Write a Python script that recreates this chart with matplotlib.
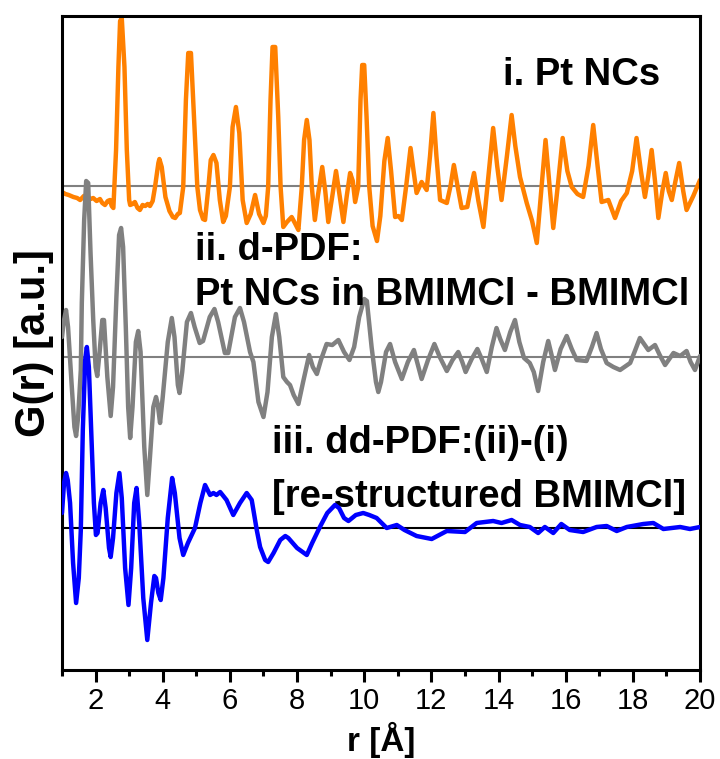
import numpy as np
import matplotlib.pyplot as plt
from matplotlib.ticker import MultipleLocator

plt.rcParams['font.family'] = ['Liberation Sans', 'DejaVu Sans']

# i. Pt NCs
r_pt = [1.00, 1.10, 1.20, 1.34, 1.45, 1.54, 1.65, 1.75, 1.85, 1.93, 2.03, 2.13, 2.20, 2.28, 2.36,
        2.43, 2.48, 2.53, 2.61, 2.68, 2.73, 2.78, 2.86, 2.93, 3.00, 3.03, 3.10, 3.17, 3.25, 3.32,
        3.40, 3.48, 3.55, 3.62, 3.70, 3.77, 3.87, 3.90, 3.97, 4.08, 4.20, 4.30, 4.37, 4.45, 4.51,
        4.61, 4.69, 4.76, 4.84, 4.93, 5.03, 5.11, 5.20, 5.26, 5.36, 5.43, 5.51, 5.60, 5.70, 5.80,
        5.88, 6.00, 6.08, 6.18, 6.28, 6.38, 6.50, 6.62, 6.75, 6.87, 7.00, 7.07, 7.14, 7.21, 7.27,
        7.35, 7.44, 7.51, 7.59, 7.70, 7.84, 7.95, 8.04, 8.14, 8.21, 8.29, 8.37, 8.44, 8.53, 8.62,
        8.75, 8.84, 8.93, 9.05, 9.16, 9.27, 9.38, 9.48, 9.58, 9.66, 9.73, 9.82, 9.89, 9.94, 10.00,
        10.07, 10.15, 10.25, 10.38, 10.48, 10.60, 10.70, 10.80, 10.92, 11.02, 11.12, 11.25, 11.38,
        11.47, 11.56, 11.71, 11.86, 11.96, 12.06, 12.15, 12.26, 12.46, 12.57, 12.67, 12.78, 12.90,
        13.07, 13.17, 13.27, 13.40, 13.55, 13.70, 13.84, 13.96, 14.09, 14.25, 14.39, 14.50, 14.64,
        14.84, 15.00, 15.14, 15.27, 15.40, 15.52, 15.63, 15.78, 15.91, 16.05, 16.18, 16.35, 16.52,
        16.68, 16.82, 16.95, 17.07, 17.27, 17.47, 17.65, 17.82, 17.98, 18.11, 18.24, 18.36, 18.46,
        18.56, 18.66, 18.76, 18.88, 18.98, 19.07, 19.16, 19.27, 19.38, 19.50, 19.60, 19.80, 20.00]
g_pt = [-6, -8, -9, -11, -12, -14, -10, -10, -13, -12, -15, -13, -17, -19, -15,
        -14, -20, -22, 36, 119, 165, 168, 119, 36, -14, -19, -18, -16, -22, -24,
        -19, -20, -18, -20, -15, -1, 23, 27, 19, -11, -25, -31, -32, -28, -27,
        -1, 86, 133, 133, 69, -1, -24, -33, -34, -1, 26, 31, 23, -14, -36,
        -30, -1, 59, 79, 53, -14, -37, -28, -9, -28, -37, -30, -1, 86, 139,
        139, 69, -1, -41, -36, -31, -38, -44, -1, 46, 66, 46, -1, -34, -10,
        19, -5, -36, -10, 15, -10, -36, -10, 13, 5, -16, -1, 86, 121, 121,
        69, -1, -40, -55, -30, 25, 48, 15, -31, -30, -34, 0, 38,
        15, -7, 4, -4, 30, 73, 30, -14, -17, 0, 21, 0, -22,
        -21, -3, 13, -15, -41, 10, 58, 20, -14, 30, 71, 40, 9,
        -17, -35, -57, -5, 46, 0, -42, 5, 48, 15, -1, -8, -11,
        20, 61, 20, -16, -14, -32, -15, -7, 15, 48, 15, -11, 10,
        36, 5, -32, -5, 13, -5, -14, 5, 23, -5, -24, -10, 6]

# ii. d-PDF: Pt NCs in BMIMCl - BMIMCl
r_d = [1.00, 1.05, 1.12, 1.18, 1.29, 1.37, 1.42, 1.48, 1.56, 1.59, 1.66, 1.72, 1.78, 1.85, 1.93,
       2.00, 2.05, 2.12, 2.20, 2.25, 2.35, 2.45, 2.52, 2.62, 2.70, 2.76, 2.82, 2.90, 2.97, 3.03,
       3.10, 3.20, 3.27, 3.34, 3.45, 3.54, 3.62, 3.72, 3.80, 3.85, 3.92, 4.00, 4.15, 4.27, 4.35,
       4.45, 4.50, 4.58, 4.72, 4.84, 4.95, 5.10, 5.20, 5.40, 5.54, 5.65, 5.85, 5.95, 6.15, 6.30,
       6.42, 6.60, 6.70, 6.85, 7.00, 7.12, 7.25, 7.37, 7.47, 7.59, 7.70, 7.79, 7.90, 8.04, 8.18,
       8.36, 8.47, 8.59, 8.72, 8.88, 9.05, 9.23, 9.40, 9.56, 9.70, 9.85, 10.00, 10.08, 10.22, 10.35,
       10.42, 10.50, 10.65, 10.77, 10.92, 11.12, 11.30, 11.48, 11.60, 11.71, 11.90, 12.09, 12.25,
       12.46, 12.63, 12.80, 12.92, 13.02, 13.20, 13.37, 13.50, 13.65, 13.80, 13.94, 14.05, 14.19,
       14.35, 14.49, 14.62, 14.76, 14.93, 15.05, 15.18, 15.33, 15.48, 15.58, 15.68, 15.85, 16.03,
       16.18, 16.33, 16.62, 16.78, 16.92, 17.05, 17.22, 17.42, 17.62, 17.92, 18.05, 18.21, 18.46,
       18.66, 18.80, 18.96, 19.21, 19.41, 19.60, 19.72, 19.85, 20.00]
g_d = [20, 35, 47, 30, -29, -70, -79, -60, -13, 54, 137, 176, 174, 104, 37,
       -10, -19, 5, 37, 37, -20, -59, -30, 60, 122, 129, 110, 30, -50, -81,
       -50, 15, 26, 5, -90, -138, -100, -50, -40, -47, -66, -40, 15, 39, 20,
       -28, -36, -15, 35, 44, 30, 14, 16, 40, 48, 35, 4, 4, 40, 49,
       35, 5, -5, -45, -60, -35, 20, 43, 20, -20, -25, -28, -38, -47, -25,
       2, -10, -17, -2, 13, 12, 17, 5, -3, 10, 40, 58, 56, 10, -25,
       -35, -25, 5, 13, -5, -22, -5, 7, -8, -22, -3, 13, 0,
       -14, -3, 5, -5, -15, -2, 8, -2, -15, 10, 29, 18, 7,
       25, 37, 15, -1, -6, -15, -34, -5, 16, 2, -13, 8, 21,
       8, -3, -4, 10, 24, 8, -6, -10, -13, -6, 5, 19, 7,
       12, 2, -8, 4, 1, 6, -5, -13, 1]

# iii. dd-PDF: (ii)-(i)
r_dd = [1.00, 1.06, 1.12, 1.17, 1.24, 1.33, 1.42, 1.50, 1.56, 1.62, 1.69, 1.74, 1.80, 1.88, 1.95,
        2.01, 2.06, 2.15, 2.23, 2.30, 2.40, 2.45, 2.52, 2.62, 2.71, 2.78, 2.88, 2.98, 3.06, 3.15,
        3.22, 3.30, 3.42, 3.54, 3.65, 3.75, 3.80, 3.87, 3.94, 4.02, 4.15, 4.28, 4.36, 4.50, 4.61,
        4.75, 4.96, 5.12, 5.26, 5.41, 5.51, 5.60, 5.71, 5.90, 6.10, 6.30, 6.50, 6.65, 6.80, 6.90,
        7.05, 7.14, 7.30, 7.50, 7.65, 7.74, 8.00, 8.29, 8.45, 8.68, 8.90, 9.13, 9.25, 9.40, 9.53,
        9.75, 9.97, 10.15, 10.37, 10.55, 10.67, 10.97, 11.20, 11.56, 12.01, 12.46, 13.00, 13.35,
        13.84, 14.09, 14.39, 14.64, 14.93, 15.18, 15.38, 15.63, 15.87, 16.12, 16.52, 16.92, 17.22,
        17.52, 17.82, 18.31, 18.61, 18.91, 19.41, 19.70, 20.00]
g_dd = [15, 45, 55, 48, 25, -35, -75, -50, -2, 98, 168, 181, 161, 88, 25,
        -7, -5, 25, 38, 20, -20, -29, -10, 35, 55, 30, -40, -77, -40, 25,
        40, 5, -70, -112, -75, -48, -50, -65, -72, -50, 10, 50, 35, -10, -27,
        -15, 0, 25, 43, 33, 35, 33, 36, 28, 13, 25, 35, 28, -2, -19,
        -32, -34, -25, -12, -8, -10, -20, -27, -15, 1, 15, 23, 20, 10, 7,
        13, 15, 13, 10, 4, 0, 3, -2, -8, -11, -3, -4, 5,
        7, 5, 8, 3, 1, -5, 1, -5, 4, -2, -4, 1, 2,
        -3, 1, 4, 5, -1, 1, -1, 1]

offsets = [0, -171, -342]


def main():
    fig = plt.figure(figsize=(7.2, 7.59), dpi=100)
    ax = fig.add_axes([62 / 720, 1 - 670 / 759, 638 / 720, 654 / 759])

    ax.axhline(offsets[0], color='#808080', lw=1.5, zorder=1)
    ax.axhline(offsets[1], color='#808080', lw=1.5, zorder=1)
    ax.axhline(offsets[2], color='black', lw=1.5, zorder=1)

    line_kw = dict(lw=3.2, solid_joinstyle='round', solid_capstyle='round')
    ax.plot(r_pt, np.array(g_pt) + offsets[0], color='#FF8000', zorder=2, **line_kw)
    ax.plot(r_d, np.array(g_d) + offsets[1], color='#808080', zorder=3, **line_kw)
    ax.plot(r_dd, np.array(g_dd) + offsets[2], color='#0000FF', zorder=4, **line_kw)

    txt = dict(fontsize=27.5, fontweight='bold', color='black', va='baseline', ha='left')
    ax.text(14.13, 101, 'i. Pt NCs', **txt)
    ax.text(4.96, -74, 'ii. d-PDF:', **txt)
    ax.text(4.96, -119, 'Pt NCs in BMIMCl - BMIMCl', **txt)
    ax.text(7.25, -267, 'iii. dd-PDF:(ii)-(i)', **txt)
    ax.text(7.25, -321, '[re-structured BMIMCl]', **txt)

    ax.set_xlim(1, 20)
    ax.set_ylim(-484, 170)
    ax.set_yticks([])
    ax.xaxis.set_major_locator(MultipleLocator(2))
    ax.xaxis.set_minor_locator(MultipleLocator(1))
    ax.tick_params(axis='x', which='major', direction='out', length=8.5, width=2.2,
                   labelsize=21, pad=4)
    ax.tick_params(axis='x', which='minor', direction='out', length=4.5, width=2.2)
    for s in ax.spines.values():
        s.set_linewidth(2.2)

    # x label placed against the bottom edge, as in the original
    fig.text(381 / 720, 1 / 759, 'r [Å]', fontsize=24, fontweight='bold',
             ha='center', va='bottom')
    ax.set_ylabel('G(r) [a.u.]', fontsize=30, fontweight='bold', labelpad=6)

    fig.savefig('out.png', dpi=100)


if __name__ == '__main__':
    main()
